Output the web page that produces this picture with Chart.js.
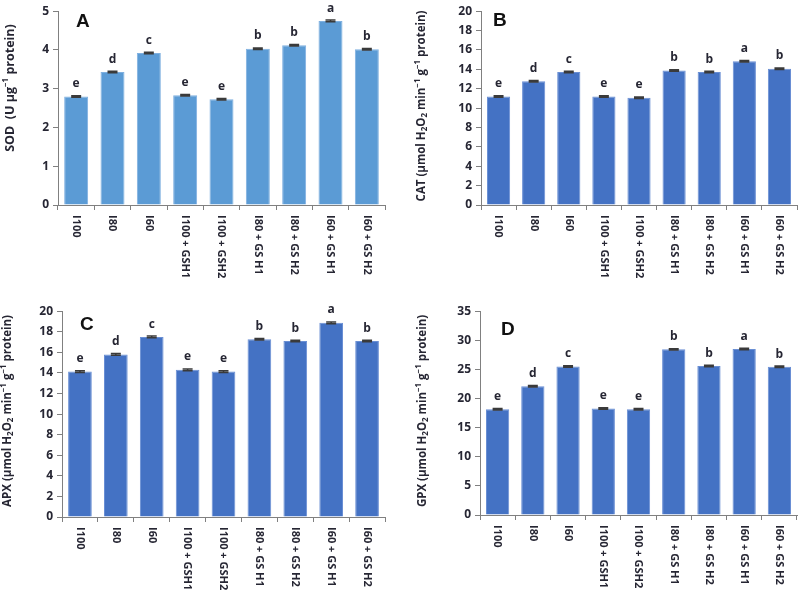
<!DOCTYPE html>
<html>
<head>
<meta charset="utf-8">
<script src="https://cdn.jsdelivr.net/npm/chart.js@4"></script>
<style>
  html, body { margin: 0; padding: 0; background: #fff; }
  #wrap { position: relative; width: 800px; height: 601px; overflow: hidden; }
  .panel { position: absolute; }
</style>
</head>
<body>
<div id="wrap">
  <canvas id="chartA" class="panel" width="400" height="300" style="left:0;top:0"></canvas>
  <canvas id="chartB" class="panel" width="400" height="300" style="left:400px;top:0"></canvas>
  <canvas id="chartC" class="panel" width="400" height="301" style="left:0;top:300px"></canvas>
  <canvas id="chartD" class="panel" width="400" height="301" style="left:400px;top:300px"></canvas>
</div>
<script>
// categories shared by all four panels
const categories = ['I100', 'I80', 'I60', 'I100 + GSH1', 'I100 + GSH2', 'I80 + GS H1', 'I80 + GS H2', 'I60 + GS H1', 'I60 + GS H2'];

// A - SOD
const sodValues = [2.80, 3.43, 3.92, 2.83, 2.73, 4.03, 4.12, 4.75, 4.02];
const sodErrors = [0.02, 0.02, 0.02, 0.02, 0.02, 0.02, 0.02, 0.02, 0.02];
const sodLetters = ['e', 'd', 'c', 'e', 'e', 'b', 'b', 'a', 'b'];

// B - CAT
const catValues = [11.2, 12.77, 13.73, 11.2, 11.07, 13.87, 13.73, 14.83, 14.07];
const catErrors = [0.08, 0.08, 0.08, 0.08, 0.08, 0.08, 0.08, 0.08, 0.08];
const catLetters = ['e', 'd', 'c', 'e', 'e', 'b', 'b', 'a', 'b'];

// C - APX
const apxValues = [14.13, 15.8, 17.5, 14.3, 14.13, 17.27, 17.1, 18.87, 17.1];
const apxErrors = [0.08, 0.08, 0.08, 0.08, 0.08, 0.08, 0.08, 0.08, 0.08];
const apxLetters = ['e', 'd', 'c', 'e', 'e', 'b', 'b', 'a', 'b'];

// D - GPX
const gpxValues = [18.15, 22.1, 25.5, 18.3, 18.15, 28.45, 25.6, 28.5, 25.45];
const gpxErrors = [0.12, 0.12, 0.12, 0.12, 0.12, 0.12, 0.12, 0.12, 0.12];
const gpxLetters = ['e', 'd', 'c', 'e', 'e', 'b', 'b', 'a', 'b'];

const FONT = '"Open Sans", Lato, sans-serif';
const TEXT = '#262633';

// draws error bars, significance letters, rotated category labels, y title and panel letter
const annotatePlugin = {
    id: 'annotate',
    afterDatasetsDraw(chart, args, opts) {
        const ctx = chart.ctx;
        const yScale = chart.scales.y;
        const ds = chart.data.datasets[0];
        const meta = chart.getDatasetMeta(0);
        ctx.save();
        meta.data.forEach((bar, i) => {
            const v = ds.data[i];
            const e = opts.errors[i];
            const yt = yScale.getPixelForValue(v + e);
            const yb = yScale.getPixelForValue(v - e);
            ctx.strokeStyle = '#3a3a3a';
            ctx.lineWidth = 1.5;
            ctx.beginPath();
            ctx.moveTo(bar.x, yb); ctx.lineTo(bar.x, yt);
            ctx.moveTo(bar.x - 5, yt); ctx.lineTo(bar.x + 5, yt);
            ctx.moveTo(bar.x - 5, yb); ctx.lineTo(bar.x + 5, yb);
            ctx.stroke();

            ctx.fillStyle = TEXT;
            ctx.font = `bold 12px ${FONT}`;
            ctx.textAlign = 'center';
            ctx.textBaseline = 'bottom';
            ctx.fillText(opts.letters[i], bar.x, yt - 6);
        });
        ctx.restore();
    },
    afterDraw(chart, args, opts) {
        const ctx = chart.ctx;
        const xScale = chart.scales.x;
        const area = chart.chartArea;
        ctx.save();

        // category labels, reading top to bottom
        ctx.fillStyle = TEXT;
        ctx.font = `bold 11px ${FONT}`;
        ctx.textAlign = 'left';
        ctx.textBaseline = 'middle';
        chart.data.labels.forEach((lab, i) => {
            const x = xScale.getPixelForValue(i);
            ctx.save();
            ctx.translate(x, area.bottom + 10);
            ctx.rotate(Math.PI / 2);
            ctx.fillText(lab, 0, 0);
            ctx.restore();
        });

        // y axis title with sub/superscripts
        const base = `bold ${opts.titleSize}px ${FONT}`;
        const small = `bold 8px ${FONT}`;
        let total = 0;
        opts.title.forEach(seg => {
            ctx.font = seg[1] === 'n' ? base : small;
            total += ctx.measureText(seg[0]).width;
        });
        ctx.save();
        ctx.translate(opts.titleX, opts.titleY);
        ctx.rotate(-Math.PI / 2);
        ctx.textAlign = 'left';
        ctx.textBaseline = 'middle';
        let pos = -total / 2;
        opts.title.forEach(seg => {
            ctx.font = seg[1] === 'n' ? base : small;
            const dy = seg[1] === 'sup' ? -4 : (seg[1] === 'sub' ? 3 : 0);
            ctx.fillText(seg[0], pos, dy);
            pos += ctx.measureText(seg[0]).width;
        });
        ctx.restore();

        // panel letter
        ctx.fillStyle = '#111';
        ctx.font = 'bold 19px "Liberation Sans", Arial, sans-serif';
        ctx.textAlign = 'left';
        ctx.textBaseline = 'middle';
        ctx.fillText(opts.panel, opts.panelX, opts.panelY);
        ctx.restore();
    }
};

function makeChart(id, cfg) {
    const ctx = document.getElementById(id).getContext('2d');
    return new Chart(ctx, {
        type: 'bar',
        data: {
            labels: categories,
            datasets: [{
                data: cfg.values,
                backgroundColor: cfg.color,
                borderColor: cfg.edge,
                borderWidth: 1,
                barPercentage: 0.66,
                categoryPercentage: 1
            }]
        },
        options: {
            responsive: false,
            animation: false,
            devicePixelRatio: 1,
            layout: { padding: { left: 0, top: cfg.top, right: cfg.right, bottom: 0 } },
            plugins: {
                legend: { display: false },
                tooltip: { enabled: false },
                annotate: {
                    errors: cfg.errors,
                    letters: cfg.letters,
                    title: cfg.title,
                    titleSize: cfg.titleSize,
                    titleX: cfg.titleX,
                    titleY: cfg.titleY,
                    panel: cfg.panel,
                    panelX: cfg.panelX,
                    panelY: cfg.panelY
                }
            },
            scales: {
                x: {
                    offset: true,
                    grid: { display: true, offset: true, drawOnChartArea: false, drawTicks: true, tickLength: 5, color: '#808080' },
                    border: { display: true, color: '#808080', width: 1 },
                    ticks: { display: false },
                    afterFit: s => { s.height = cfg.bottom; }
                },
                y: {
                    min: 0,
                    max: cfg.max,
                    grid: { display: true, drawOnChartArea: false, drawTicks: true, tickLength: 5, color: '#808080' },
                    border: { display: true, color: '#808080', width: 1 },
                    ticks: {
                        stepSize: cfg.step,
                        padding: 4,
                        color: TEXT,
                        font: { family: FONT, size: 12, weight: 'bold' }
                    },
                    afterFit: s => { s.width = cfg.left; }
                }
            }
        },
        plugins: [annotatePlugin]
    });
}

makeChart('chartA', {
    values: sodValues, errors: sodErrors, letters: sodLetters,
    color: '#5b9bd5', edge: '#7fb0e0', max: 5, step: 1,
    left: 58, top: 5, right: 15, bottom: 95,
    title: [['SOD  (U µg', 'n'], ['−1', 'sup'], [' protein)', 'n']],
    titleSize: 12.5, titleX: 10, titleY: 88, panel: 'A', panelX: 76, panelY: 22
});

makeChart('chartB', {
    values: catValues, errors: catErrors, letters: catLetters,
    color: '#4472c4', edge: '#6a8fd4', max: 20, step: 2,
    left: 81, top: 5, right: 3, bottom: 95,
    title: [['CAT (µmol H', 'n'], ['2', 'sub'], ['O', 'n'], ['2', 'sub'], [' min', 'n'], ['−1', 'sup'], [' g', 'n'], ['−1', 'sup'], [' protein)', 'n']],
    titleSize: 11.5, titleX: 22, titleY: 106, panel: 'B', panelX: 93, panelY: 21
});

makeChart('chartC', {
    values: apxValues, errors: apxErrors, letters: apxLetters,
    color: '#4472c4', edge: '#6a8fd4', max: 20, step: 2,
    left: 62, top: 11, right: 15, bottom: 84,
    title: [['APX (µmol H', 'n'], ['2', 'sub'], ['O', 'n'], ['2', 'sub'], [' min', 'n'], ['−1', 'sup'], [' g', 'n'], ['−1', 'sup'], [' protein)', 'n']],
    titleSize: 11.5, titleX: 8, titleY: 111, panel: 'C', panelX: 80, panelY: 25
});

makeChart('chartD', {
    values: gpxValues, errors: gpxErrors, letters: gpxLetters,
    color: '#4472c4', edge: '#6a8fd4', max: 35, step: 5,
    left: 80, top: 9, right: 3, bottom: 86,
    title: [['GPX (µmol H', 'n'], ['2', 'sub'], ['O', 'n'], ['2', 'sub'], [' min', 'n'], ['−1', 'sup'], [' g', 'n'], ['−1', 'sup'], [' protein)', 'n']],
    titleSize: 11.5, titleX: 23, titleY: 111, panel: 'D', panelX: 101, panelY: 30
});
</script>
</body>
</html>
